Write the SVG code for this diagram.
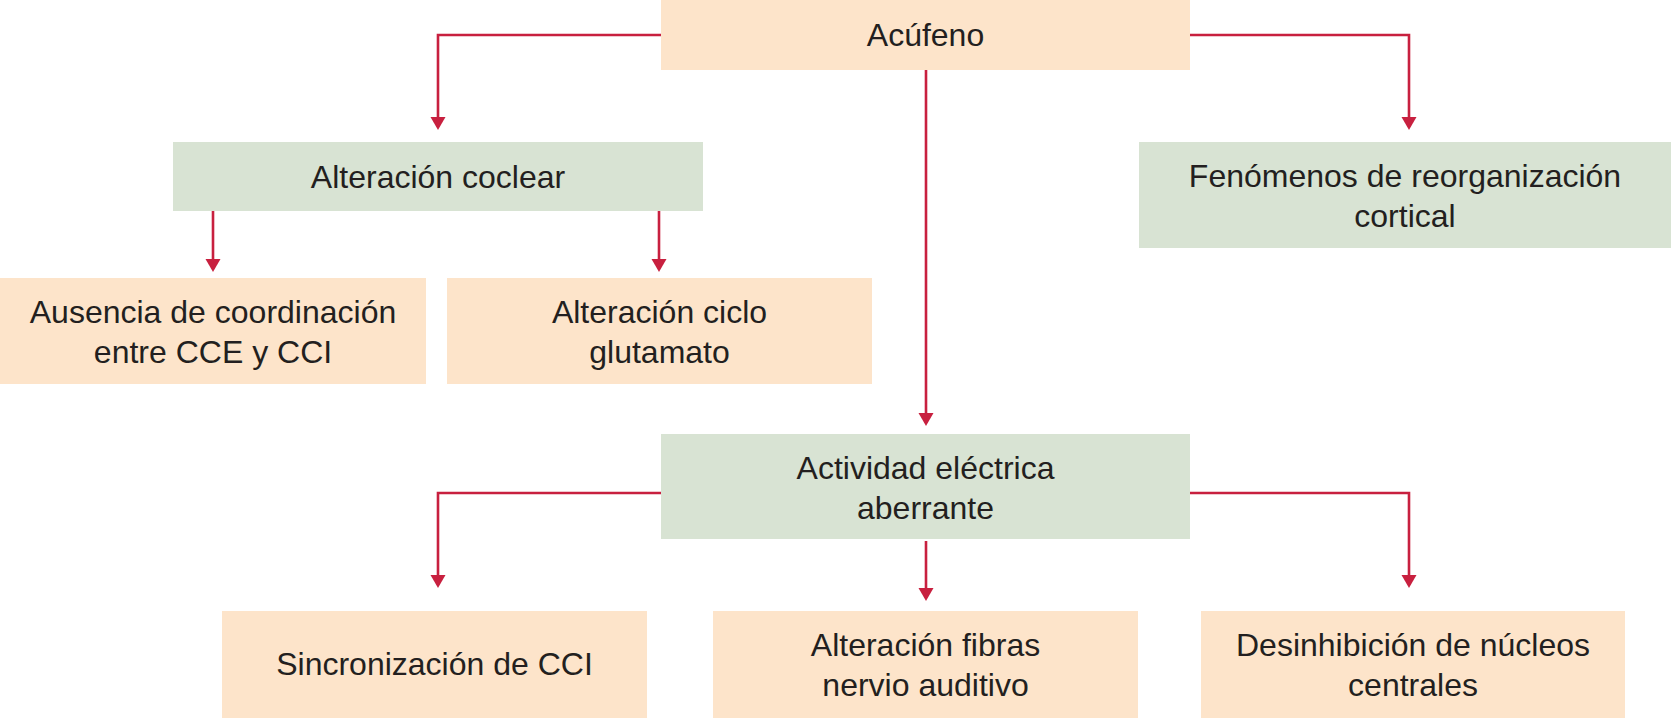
<svg xmlns="http://www.w3.org/2000/svg" width="1671" height="718" viewBox="0 0 1671 718">
  <style>
    .peach { fill: #FDE4CA; }
    .green { fill: #D8E3D3; }
    .lbl { font-family: "Liberation Sans", Arial, sans-serif; font-size: 32px; fill: #231F20; text-anchor: middle; }
    .conn { fill: none; stroke: #C8203F; stroke-width: 2.6; marker-end: url(#arrow); }
  </style>
  <defs>
    <marker id="arrow" markerUnits="userSpaceOnUse" markerWidth="14" markerHeight="16" refX="7" refY="7.5" orient="auto">
      <path d="M0,0 L13,7.5 L0,15 Z" fill="#C8203F"/>
    </marker>
  </defs>
  <rect width="1671" height="718" fill="#FFFFFF"/>

  <g id="connectors">
    <path class="conn" d="M661,35 H438 V124"/>
    <path class="conn" d="M1190,35 H1409 V124"/>
    <path class="conn" d="M926,70 V420"/>
    <path class="conn" d="M213,211 V266"/>
    <path class="conn" d="M659,211 V266"/>
    <path class="conn" d="M661,493 H438 V582"/>
    <path class="conn" d="M1190,493 H1409 V582"/>
    <path class="conn" d="M926,541 V595"/>
  </g>

  <g id="acufeno">
    <rect class="peach" x="661" y="0" width="529" height="70"/>
    <text class="lbl" x="925.5" y="46">Acúfeno</text>
  </g>
  <g id="alteracion-coclear">
    <rect class="green" x="173" y="142" width="530" height="69"/>
    <text class="lbl" x="438" y="188">Alteración coclear</text>
  </g>
  <g id="reorganizacion-cortical">
    <rect class="green" x="1139" y="142" width="532" height="106"/>
    <text class="lbl" x="1405" y="187">Fenómenos de reorganización</text>
    <text class="lbl" x="1405" y="227">cortical</text>
  </g>
  <g id="ausencia-coordinacion">
    <rect class="peach" x="0" y="278" width="426" height="106"/>
    <text class="lbl" x="213" y="323">Ausencia de coordinación</text>
    <text class="lbl" x="213" y="363">entre CCE y CCI</text>
  </g>
  <g id="ciclo-glutamato">
    <rect class="peach" x="447" y="278" width="425" height="106"/>
    <text class="lbl" x="659.5" y="323">Alteración ciclo</text>
    <text class="lbl" x="659.5" y="363">glutamato</text>
  </g>
  <g id="actividad-electrica">
    <rect class="green" x="661" y="434" width="529" height="105"/>
    <text class="lbl" x="925.5" y="479">Actividad eléctrica</text>
    <text class="lbl" x="925.5" y="519">aberrante</text>
  </g>
  <g id="sincronizacion">
    <rect class="peach" x="222" y="611" width="425" height="107"/>
    <text class="lbl" x="434.5" y="675">Sincronización de CCI</text>
  </g>
  <g id="fibras-nervio">
    <rect class="peach" x="713" y="611" width="425" height="107"/>
    <text class="lbl" x="925.5" y="656">Alteración fibras</text>
    <text class="lbl" x="925.5" y="696">nervio auditivo</text>
  </g>
  <g id="desinhibicion">
    <rect class="peach" x="1201" y="611" width="424" height="107"/>
    <text class="lbl" x="1413" y="656">Desinhibición de núcleos</text>
    <text class="lbl" x="1413" y="696">centrales</text>
  </g>
</svg>
